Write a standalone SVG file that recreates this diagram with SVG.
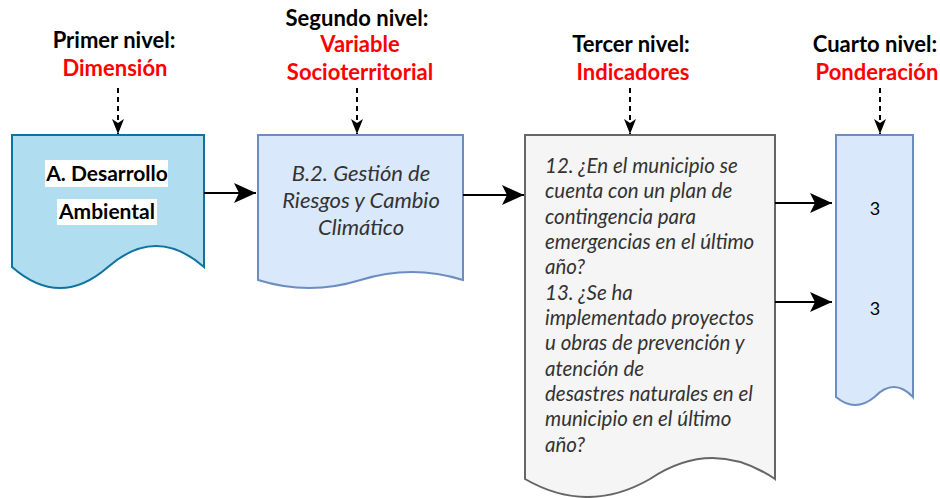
<svg xmlns="http://www.w3.org/2000/svg" width="940" height="498" viewBox="0 0 940 498">
<style>
.h{font-family:Lato,"Open Sans","Liberation Sans",sans-serif;font-weight:bold;font-size:22px;text-anchor:middle;fill:#000}
.r{fill:#ff0000}
.b1{font-family:Lato,"Open Sans","Liberation Sans",sans-serif;font-weight:bold;font-size:21px;text-anchor:middle;fill:#000}
.it{font-family:Lato,"Open Sans","Liberation Sans",sans-serif;font-style:italic;font-size:20.5px;fill:#333333}
.it2{font-family:Lato,"Open Sans","Liberation Sans",sans-serif;font-style:italic;font-size:22px;fill:#333333;text-anchor:middle}
.num{font-family:Lato,"Open Sans","Liberation Sans",sans-serif;font-size:18px;text-anchor:middle;fill:#000}
.solid{stroke:#000;stroke-width:2;fill:none}
.dash{stroke:#000;stroke-width:2;fill:none;stroke-dasharray:5 4}
</style>
<defs>
<marker id="ah" markerUnits="userSpaceOnUse" markerWidth="24" markerHeight="22" refX="22" refY="10" orient="auto">
<path d="M0,0 L22,10 L0,20 L5,10 Z" fill="#000"/>
</marker>
<marker id="ahs" markerUnits="userSpaceOnUse" markerWidth="16" markerHeight="14" refX="15" refY="6" orient="auto">
<path d="M0,0 L15,6 L0,12 L4,6 Z" fill="#000"/>
</marker>
</defs>

<g id="lbl1">
<text class="h" x="114" y="48">Primer nivel:</text>
<text class="h r" x="115" y="76">Dimensión</text>
</g>
<g id="lbl2">
<text class="h" x="357" y="26">Segundo nivel:</text>
<text class="h r" x="360" y="52">Variable</text>
<text class="h r" x="360" y="80">Socioterritorial</text>
</g>
<g id="lbl3">
<text class="h" x="631" y="52">Tercer nivel:</text>
<text class="h r" x="633" y="80">Indicadores</text>
</g>
<g id="lbl4">
<text class="h" x="875" y="52">Cuarto nivel:</text>
<text class="h r" x="877" y="80">Ponderación</text>
</g>

<g id="node1">
<path d="M12,135 H204 V267 Q156,225 108,267 Q60,309 12,267 Z" fill="#b1ddf0" stroke="#10739e" stroke-width="2"/>
<rect x="45" y="160" width="123" height="27" fill="#fff"/>
<rect x="57" y="199" width="100" height="26" fill="#fff"/>
<text class="b1" x="107" y="181">A. Desarrollo</text>
<text class="b1" x="107" y="219">Ambiental</text>
</g>

<g id="node2">
<path d="M258,135 H463 V280 Q411.75,264 360.5,280 Q309.25,296 258,280 Z" fill="#dae8fc" stroke="#6c8ebf" stroke-width="2"/>
<text class="it2" x="361" y="181">B.2. Gestión de</text>
<text class="it2" x="361" y="208">Riesgos y Cambio</text>
<text class="it2" x="361" y="235">Climático</text>
</g>

<g id="node3">
<path d="M525,135 H775 V479 Q712.5,437 650,479 Q587.5,515 525,479 Z" fill="#f5f5f5" stroke="#666666" stroke-width="2"/>
<text class="it" x="545" y="173">12. ¿En el municipio se</text>
<text class="it" x="545" y="198">cuenta con un plan de</text>
<text class="it" x="545" y="224">contingencia para</text>
<text class="it" x="545" y="249">emergencias en el último</text>
<text class="it" x="545" y="274">año?</text>
<text class="it" x="545" y="300">13. ¿Se ha</text>
<text class="it" x="545" y="325">implementado proyectos</text>
<text class="it" x="545" y="350">u obras de prevención y</text>
<text class="it" x="545" y="376">atención de</text>
<text class="it" x="545" y="401">desastres naturales en el</text>
<text class="it" x="545" y="426">municipio en el último</text>
<text class="it" x="545" y="452">año?</text>
</g>

<g id="node4">
<path d="M836,135 H913 V397 Q893.75,377 874.5,397 Q855.25,413 836,397 Z" fill="#dae8fc" stroke="#6c8ebf" stroke-width="2"/>
<text class="num" x="875" y="215">3</text>
<text class="num" x="875" y="315">3</text>
</g>

<g id="connectors">
<line class="dash" x1="118" y1="88" x2="118" y2="134" marker-end="url(#ahs)"/>
<line class="dash" x1="357" y1="88" x2="357" y2="134" marker-end="url(#ahs)"/>
<line class="dash" x1="630" y1="88" x2="630" y2="134" marker-end="url(#ahs)"/>
<line class="dash" x1="880" y1="88" x2="880" y2="134" marker-end="url(#ahs)"/>
<line class="solid" x1="204" y1="193" x2="256" y2="193" marker-end="url(#ah)"/>
<line class="solid" x1="463" y1="195" x2="524" y2="195" marker-end="url(#ah)"/>
<line class="solid" x1="775" y1="203" x2="832" y2="203" marker-end="url(#ah)"/>
<line class="solid" x1="775" y1="302" x2="832" y2="302" marker-end="url(#ah)"/>
</g>
</svg>
